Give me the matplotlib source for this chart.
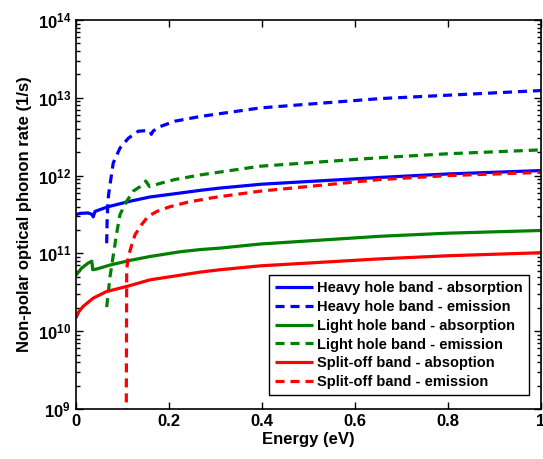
import math
import matplotlib
matplotlib.use('Agg')
from matplotlib import pyplot as plt
from matplotlib.ticker import FuncFormatter, LogLocator, FixedLocator

plt.rcParams['font.family'] = ['Liberation Sans', 'DejaVu Sans']
plt.rcParams['font.weight'] = 'bold'
plt.rcParams['mathtext.fontset'] = 'custom'
plt.rcParams['mathtext.bf'] = 'Liberation Sans:bold'
plt.rcParams['mathtext.rm'] = 'Liberation Sans:bold'
plt.rcParams['lines.scale_dashes'] = False

# energies (eV) and rates (1/s)
hh_abs_e = [0, 0.009, 0.026, 0.035, 0.037, 0.041, 0.069, 0.116, 0.159, 0.224, 0.267, 0.31, 0.40, 0.654, 0.80, 1.0]
hh_abs_r = [3.16e11, 3.27e11, 3.31e11, 3.16e11, 2.95e11, 3.47e11, 3.98e11, 4.68e11, 5.31e11, 5.97e11,
            6.46e11, 6.92e11, 7.76e11, 9.48e11, 1.05e12, 1.16e12]

hh_em_e = [0.066, 0.067, 0.069, 0.0716, 0.080, 0.0946, 0.1125, 0.134, 0.155, 0.159, 0.162, 0.166, 0.181,
           0.213, 0.267, 0.396, 0.654, 0.80, 1.0]
hh_em_r = [1.35e11, 2.8e11, 5.0e11, 6.6e11, 1.45e12, 2.26e12, 3.02e12, 3.72e12, 3.8e12, 3.75e12, 3.39e12,
           3.75e12, 4.27e12, 5.01e12, 5.75e12, 7.41e12, 9.77e12, 1.08e13, 1.24e13]

lh_abs_e = [0, 0.012, 0.026, 0.034, 0.036, 0.045, 0.073, 0.116, 0.159, 0.224, 0.267, 0.31, 0.396, 0.654, 0.80, 1.0]
lh_abs_r = [5.25e10, 6.46e10, 7.5e10, 7.94e10, 6.17e10, 6.31e10, 7.08e10, 8.13e10, 9.12e10, 1.05e11,
            1.12e11, 1.17e11, 1.32e11, 1.66e11, 1.82e11, 1.97e11]

lh_em_e = [0.066, 0.0731, 0.0875, 0.0946, 0.109, 0.123, 0.138, 0.150, 0.158, 0.184, 0.213, 0.267, 0.396,
           0.654, 0.80, 1.0]
lh_em_r = [2.04e10, 5.01e10, 1.82e11, 3.16e11, 4.68e11, 6.31e11, 7.24e11, 8.51e11, 7.24e11, 8.04e11,
           8.91e11, 1.02e12, 1.32e12, 1.70e12, 1.91e12, 2.14e12]

so_abs_e = [0, 0.006, 0.0157, 0.037, 0.066, 0.109, 0.159, 0.267, 0.31, 0.396, 0.654, 0.80, 1.0]
so_abs_r = [1.48e10, 1.78e10, 2.09e10, 2.66e10, 3.24e10, 3.76e10, 4.57e10, 5.75e10, 6.17e10, 6.92e10,
            8.51e10, 9.33e10, 1.02e11]

so_em_e = [0.108, 0.109, 0.1125, 0.120, 0.127, 0.141, 0.155, 0.174, 0.202, 0.238, 0.288, 0.310, 0.396,
           0.654, 0.80, 1.0]
so_em_r = [5e8, 6.17e10, 9.12e10, 1.29e11, 1.74e11, 2.34e11, 2.99e11, 3.47e11, 3.98e11, 4.52e11, 5.13e11,
           5.37e11, 6.31e11, 8.91e11, 1.0e12, 1.10e12]

series = [
    (hh_abs_e, hh_abs_r, 'b', '-', 'Heavy hole band - absorption'),
    (hh_em_e, hh_em_r, 'b', '--', 'Heavy hole band - emission'),
    (lh_abs_e, lh_abs_r, 'g', '-', 'Light hole band - absorption'),
    (lh_em_e, lh_em_r, 'g', '--', 'Light hole band - emission'),
    (so_abs_e, so_abs_r, 'r', '-', 'Split-off band - absoption'),
    (so_em_e, so_em_r, 'r', '--', 'Split-off band - emission'),
]
colors = {'b': '#0000ff', 'g': '#008000', 'r': '#ff0000'}

fig = plt.figure(figsize=(5.43, 4.59), dpi=100)
ax = fig.add_axes([76 / 543, 50 / 459, 465 / 543, 389 / 459])

for e, r, c, ls, lab in series:
    line, = ax.plot(e, r, color=colors[c], lw=2.3, label=lab, solid_capstyle='butt')
    if ls == '--':
        line.set_dashes((6.5, 4.3))

ax.set_yscale('log')
ax.set_xlim(0, 1)
ax.set_ylim(1e9, 1e14)
ax.xaxis.set_major_locator(FixedLocator([0, 0.2, 0.4, 0.6, 0.8, 1.0]))
ax.xaxis.set_major_formatter(FuncFormatter(lambda v, p: '%g' % v))
ax.yaxis.set_major_locator(LogLocator(base=10, numticks=10))
ax.yaxis.set_minor_locator(LogLocator(base=10, subs=range(2, 10), numticks=10))
ax.yaxis.set_major_formatter(FuncFormatter(lambda v, p: r'$\mathbf{10^{%d}}$' % round(math.log10(v))))

ax.tick_params(which='both', direction='in', top=True, right=True, labelsize=12, width=1)
ax.tick_params(which='major', length=5)
ax.tick_params(which='minor', length=3)
for s in ax.spines.values():
    s.set_linewidth(1.2)

ax.set_xlabel('Energy (eV)', fontsize=12, fontweight='bold', labelpad=2)
ax.set_ylabel('Non-polar optical phonon rate (1/s)', fontsize=12, fontweight='bold', labelpad=4)

leg = ax.legend(loc='lower right', bbox_to_anchor=(0.974, 0.036), fontsize=10.5, handlelength=2.6,
                handletextpad=0.3, labelspacing=0.33, borderpad=0.4, borderaxespad=0, fancybox=False,
                framealpha=1)
leg.get_frame().set_edgecolor('black')
leg.get_frame().set_linewidth(1.0)
for t in leg.get_texts():
    t.set_fontweight('bold')

fig.savefig('out.png', dpi=100)
